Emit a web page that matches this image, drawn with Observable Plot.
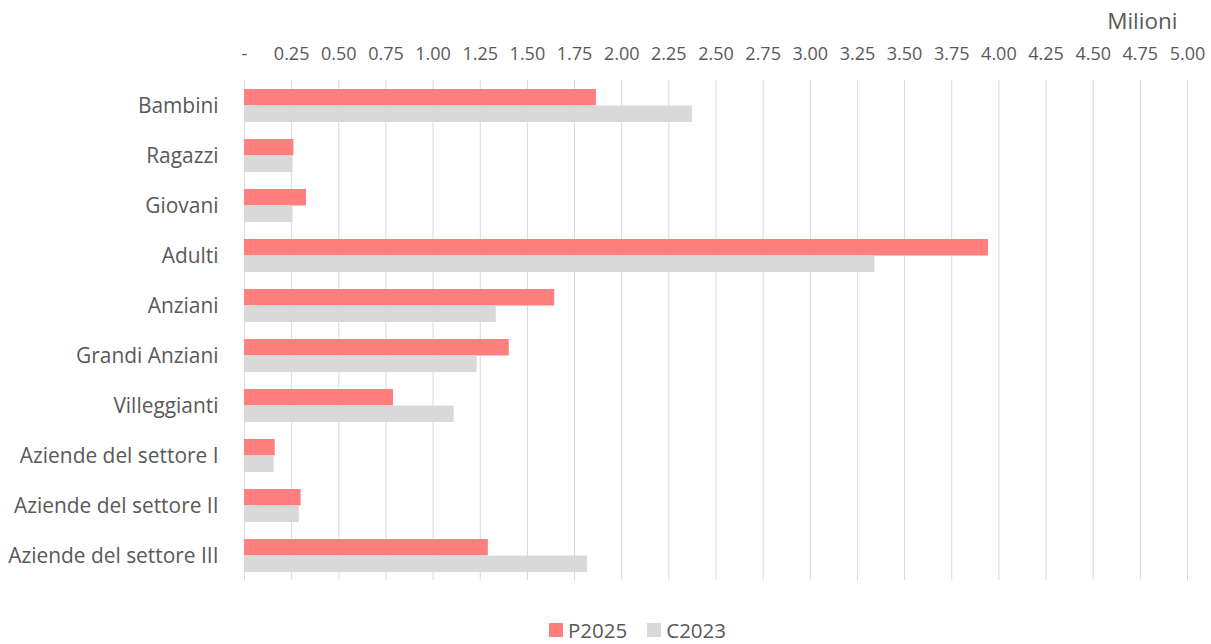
<!DOCTYPE html>
<html>
<head>
<meta charset="utf-8">
<script src="https://cdn.jsdelivr.net/npm/d3@7"></script>
<script src="https://cdn.jsdelivr.net/npm/@observablehq/plot@0.6"></script>
<style>
  html, body { margin: 0; padding: 0; background: #fff; }
  body { width: 1211px; font-family: "Open Sans", sans-serif; }
  .legend { display: flex; justify-content: flex-start; align-items: center; height: 34px; margin-top: 3px; font-size: 20.5px; color: #595959; padding-left: 549px; }
  .legend span.item { display: inline-flex; align-items: center; gap: 5px; margin-right: 20px; }
  .legend span.sw { width: 14px; height: 14px; display: inline-block; }
</style>
</head>
<body>
<div id="chart"></div>
<script>
const categories = ["Bambini", "Ragazzi", "Giovani", "Adulti", "Anziani", "Grandi Anziani", "Villeggianti", "Aziende del settore I", "Aziende del settore II", "Aziende del settore III"];
const seriesNames = ["P2025", "C2023"];
const p2025 = [1.866, 0.262, 0.329, 3.945, 1.645, 1.404, 0.79, 0.163, 0.30, 1.293];
const c2023 = [2.375, 0.257, 0.257, 3.343, 1.335, 1.233, 1.112, 0.157, 0.291, 1.818];
const xTicks = [0, 0.25, 0.5, 0.75, 1, 1.25, 1.5, 1.75, 2, 2.25, 2.5, 2.75, 3, 3.25, 3.5, 3.75, 4, 4.25, 4.5, 4.75, 5];
const unitLabel = "Milioni";
const colors = ["#FF7F7F", "#D9D9D9"];

const dataP = categories.map((c, i) => ({category: c, value: p2025[i]}));
const dataC = categories.map((c, i) => ({category: c, value: c2023[i]}));

const chart = Plot.plot({
  width: 1211,
  height: 610,
  marginTop: 80,
  marginBottom: 30,
  marginLeft: 244,
  marginRight: 24,
  style: {fontFamily: "'Open Sans', sans-serif", color: "#595959", background: "#fff"},
  x: {domain: [0, 5], ticks: xTicks},
  y: {domain: categories, paddingInner: 0.34, paddingOuter: 0.17, align: 0.5},
  marks: [
    Plot.gridX(xTicks, {stroke: "#D9D9D9", strokeOpacity: 1, strokeWidth: 1}),
    Plot.barX(dataP, {x: "value", y: "category", fill: colors[0], insetBottom: 16.5}),
    Plot.barX(dataC, {x: "value", y: "category", fill: colors[1], insetTop: 16.5}),
    Plot.axisX({anchor: "top", ticks: xTicks, tickSize: 0, tickPadding: 21, fontSize: 18, label: null,
      tickFormat: d => d === 0 ? "-" : d.toFixed(2)}),
    Plot.axisY({tickSize: 0, tickPadding: 26, fontSize: 20.9, label: null}),
    Plot.text([unitLabel], {frameAnchor: "top-right", dy: -59, dx: -10, textAnchor: "end", lineAnchor: "middle", fontSize: 22.5, fill: "#595959"})
  ]
});
document.getElementById("chart").appendChild(chart);

const legend = document.createElement("div");
legend.className = "legend";
seriesNames.forEach((s, i) => {
  const item = document.createElement("span");
  item.className = "item";
  const sw = document.createElement("span");
  sw.className = "sw";
  sw.style.background = colors[i];
  item.appendChild(sw);
  item.appendChild(document.createTextNode(s));
  legend.appendChild(item);
});
document.body.appendChild(legend);
</script>
</body>
</html>
